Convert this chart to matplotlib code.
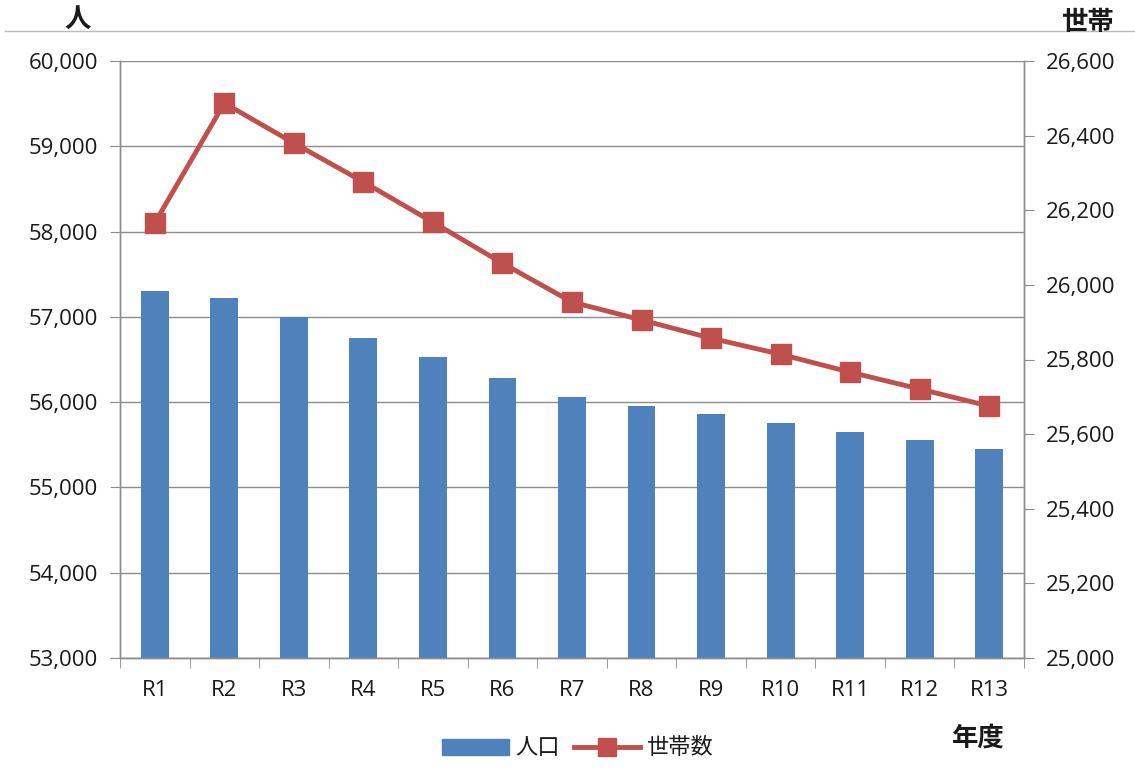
import matplotlib
matplotlib.use("Agg")
import matplotlib.pyplot as plt
from matplotlib.ticker import FuncFormatter, MultipleLocator, FixedLocator
from matplotlib.lines import Line2D
from matplotlib.patches import Patch
import numpy as np

plt.rcParams['font.family'] = ['Open Sans', 'Noto Sans CJK JP', 'DejaVu Sans']

years = ["R1", "R2", "R3", "R4", "R5", "R6", "R7", "R8", "R9", "R10", "R11", "R12", "R13"]
population = [57300, 57220, 57000, 56750, 56530, 56280, 56060, 55955, 55860, 55755, 55650, 55555, 55450]
households = [26166, 26487, 26380, 26276, 26168, 26058, 25954, 25906, 25857, 25814, 25766, 25721, 25675]

BLUE = "#4F81BD"
RED = "#C0504D"
GRID = "#8C8C8C"
TXT = "#1A1A1A"

fig = plt.figure(figsize=(11.35, 7.82), dpi=100)
ax = fig.add_axes([120 / 1135, 1 - 658 / 782, 904 / 1135, 597 / 782])
ax2 = ax.twinx()

x = np.arange(len(years))
ax.bar(x, population, width=0.4, color=BLUE, zorder=2)
ax2.plot(x, households, color=RED, lw=3.5, marker="s", markersize=15,
         markerfacecolor=RED, markeredgecolor=RED, zorder=3)

ax.set_xlim(-0.5, len(years) - 0.5)
ax.set_ylim(53000, 60000)
ax2.set_ylim(25000, 26600)

fmt = FuncFormatter(lambda v, p: f"{int(v):,}")
ax.yaxis.set_major_locator(MultipleLocator(1000))
ax.yaxis.set_major_formatter(fmt)
ax2.yaxis.set_major_locator(MultipleLocator(200))
ax2.yaxis.set_major_formatter(fmt)

ax.set_xticks(x)
ax.set_xticklabels(years)
ax.xaxis.set_minor_locator(FixedLocator(np.arange(-0.5, len(years), 1.0)))
ax.tick_params(axis="x", which="major", length=0, pad=16, labelsize=16, colors=TXT)
ax.tick_params(axis="x", which="minor", length=7, color=GRID, direction="out")
ax.tick_params(axis="y", length=7, color=GRID, labelsize=16, pad=9, labelcolor=TXT)
ax2.tick_params(axis="y", length=7, color=GRID, labelsize=16, pad=9, labelcolor=TXT)

ax.grid(axis="y", color=GRID, lw=1.0, zorder=0)
ax.set_axisbelow(True)

for a in (ax, ax2):
    a.spines["top"].set_visible(False)
    for side in ("left", "right", "bottom"):
        a.spines[side].set_color(GRID)
        a.spines[side].set_linewidth(1.0)

# thin rule along the top of the figure
fig.add_artist(Line2D([5 / 1135, 1.0], [1 - 31 / 782, 1 - 31 / 782], color="#BBBBBB", lw=1.0))

fig.text(78 / 1135, 1 - 19 / 782, "人", ha="center", va="center", fontsize=19, fontweight="bold",
         family=["Noto Sans CJK JP"], color=TXT)
fig.text(1087 / 1135, 1 - 22 / 782, "世帯", ha="center", va="center", fontsize=19, fontweight="bold",
         family=["Noto Sans CJK JP"], color=TXT)
fig.text(978 / 1135, 1 - 738 / 782, "年度", ha="center", va="center", fontsize=19, fontweight="bold",
         family=["Noto Sans CJK JP"], color=TXT)

handles = [Patch(facecolor=BLUE, edgecolor=BLUE),
           Line2D([], [], color=RED, lw=3.5, marker="s", markersize=13)]
fig.legend(handles, ["人口", "世帯数"], loc="center", bbox_to_anchor=(578 / 1135, 1 - 748 / 782),
           ncol=2, frameon=False, handlelength=3.0, columnspacing=0.6,
           handletextpad=0.3, labelcolor=TXT,
           prop={"family": ["Noto Sans CJK JP"], "size": 16})

fig.savefig("out.png", dpi=100, facecolor="white")
